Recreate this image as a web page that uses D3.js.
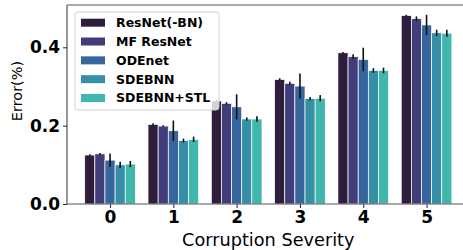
<!DOCTYPE html>
<html>
<head>
<meta charset="utf-8">
<script src="https://cdn.jsdelivr.net/npm/d3@7"></script>
<style>
  html, body { margin: 0; padding: 0; background: #fff; }
  svg { display: block; font-family: "DejaVu Sans", sans-serif; }
</style>
</head>
<body>
<svg id="chart" width="463" height="250"></svg>
<script>
// ---- data ----
const categories = [0, 1, 2, 3, 4, 5];
const seriesNames = ["ResNet(-BN)", "MF ResNet", "ODEnet", "SDEBNN", "SDEBNN+STL"];
const seriesColors = ["#2e1e3b", "#413d7b", "#37659e", "#348fa7", "#40b7ad"];
const resnetValues = [0.125, 0.203, 0.263, 0.318, 0.386, 0.481];
const mfResnetValues = [0.128, 0.199, 0.257, 0.308, 0.376, 0.473];
const odenetValues = [0.112, 0.187, 0.248, 0.301, 0.369, 0.457];
const sdebnnValues = [0.100, 0.162, 0.217, 0.269, 0.341, 0.437];
const sdebnnStlValues = [0.102, 0.165, 0.217, 0.270, 0.341, 0.436];
const resnetErr = [0.002, 0.003, 0.003, 0.003, 0.002, 0.002];
const mfResnetErr = [0.002, 0.002, 0.003, 0.004, 0.006, 0.006];
const odenetErr = [0.017, 0.026, 0.032, 0.032, 0.030, 0.026];
const sdebnnErr = [0.008, 0.005, 0.004, 0.004, 0.006, 0.008];
const sdebnnStlErr = [0.008, 0.007, 0.007, 0.008, 0.007, 0.009];
const yTicks = [0.0, 0.2, 0.4];
const yTickLabels = ["0.0", "0.2", "0.4"];
const xLabel = "Corruption Severity";
const yLabel = "Error(%)";

const allValues = [resnetValues, mfResnetValues, odenetValues, sdebnnValues, sdebnnStlValues];
const allErr = [resnetErr, mfResnetErr, odenetErr, sdebnnErr, sdebnnStlErr];

(function () {
// ---- layout ----
const svg = d3.select("#chart");
const pLeft = 67, pRight = 469.6, pTop = 5, pBottom = 204;
const x = d3.scaleLinear().domain([-0.68, 5.68]).range([pLeft, pRight]);
const y = d3.scaleLinear().domain([0, 0.508]).range([pBottom, pTop]);
const groupWidth = 0.8;
const barW = groupWidth / seriesNames.length;

const rows = [];
seriesNames.forEach((s, i) => {
  categories.forEach((c, j) => {
    rows.push({ s: i, c: c, v: allValues[i][j], e: allErr[i][j] });
  });
});

// bars
svg.append("g").selectAll("rect").data(rows).join("rect")
  .attr("x", d => x(d.c - groupWidth / 2 + d.s * barW))
  .attr("width", d => x(barW) - x(0))
  .attr("y", d => y(d.v))
  .attr("height", d => y(0) - y(d.v))
  .attr("fill", d => seriesColors[d.s])
  .attr("stroke", "#ffffff")
  .attr("stroke-width", 0.7);

// error bars
svg.append("g").selectAll("line").data(rows).join("line")
  .attr("x1", d => x(d.c - groupWidth / 2 + (d.s + 0.5) * barW))
  .attr("x2", d => x(d.c - groupWidth / 2 + (d.s + 0.5) * barW))
  .attr("y1", d => y(d.v - d.e))
  .attr("y2", d => y(d.v + d.e))
  .attr("stroke", "#111")
  .attr("stroke-width", 1.6);

// axes
const yAxis = d3.axisLeft(y).tickValues(yTicks).tickFormat((d, i) => yTickLabels[i]).tickSize(4).tickPadding(3);
const gy = svg.append("g").attr("transform", `translate(${pLeft},0)`).call(yAxis);
gy.select(".domain").remove();
gy.selectAll("line").attr("stroke", "#222");
gy.selectAll("text").attr("font-size", 17).attr("font-weight", "bold").attr("fill", "#000")
  .attr("font-family", "DejaVu Sans");

const xAxis = d3.axisBottom(x).tickValues(categories).tickFormat(d3.format("d")).tickSize(4).tickPadding(3);
const gx = svg.append("g").attr("transform", `translate(0,${pBottom})`).call(xAxis);
gx.select(".domain").remove();
gx.selectAll("line").attr("stroke", "#222");
gx.selectAll("text").attr("font-size", 17).attr("font-weight", "bold").attr("fill", "#000")
  .attr("font-family", "DejaVu Sans");

// spines
const spines = svg.append("g").attr("stroke", "#333").attr("stroke-width", 1);
spines.append("line").attr("x1", pLeft).attr("x2", pLeft).attr("y1", pTop).attr("y2", pBottom);
spines.append("line").attr("x1", pLeft).attr("x2", pRight).attr("y1", pBottom).attr("y2", pBottom).attr("stroke", "#555");
spines.append("line").attr("x1", pLeft).attr("x2", pRight).attr("y1", pTop).attr("y2", pTop).attr("stroke", "#555");

// axis labels
svg.append("text").attr("x", (pLeft + pRight) / 2).attr("y", 246)
  .attr("text-anchor", "middle").attr("font-size", 17.7).attr("fill", "#000").text(xLabel);
svg.append("text").attr("transform", `translate(21.5,91) rotate(-90)`)
  .attr("text-anchor", "middle").attr("font-size", 14.5).attr("fill", "#000").text(yLabel);

// legend
const lg = svg.append("g");
lg.append("rect").attr("x", 75).attr("y", 12).attr("width", 144).attr("height", 98)
  .attr("rx", 3).attr("fill", "#fff").attr("fill-opacity", 0.8).attr("stroke", "#d0d0d0");
const rowY = d3.scaleLinear().domain([0, 4]).range([22.7, 98]);
seriesNames.forEach((s, i) => {
  lg.append("rect").attr("x", 81).attr("y", rowY(i) - 4).attr("width", 24).attr("height", 8)
    .attr("fill", seriesColors[i]);
  lg.append("text").attr("x", 116).attr("y", rowY(i)).attr("dy", "0.35em")
    .attr("font-size", 12.5).attr("font-weight", "bold").attr("fill", "#000").text(s);
});
})();
</script>
</body>
</html>
